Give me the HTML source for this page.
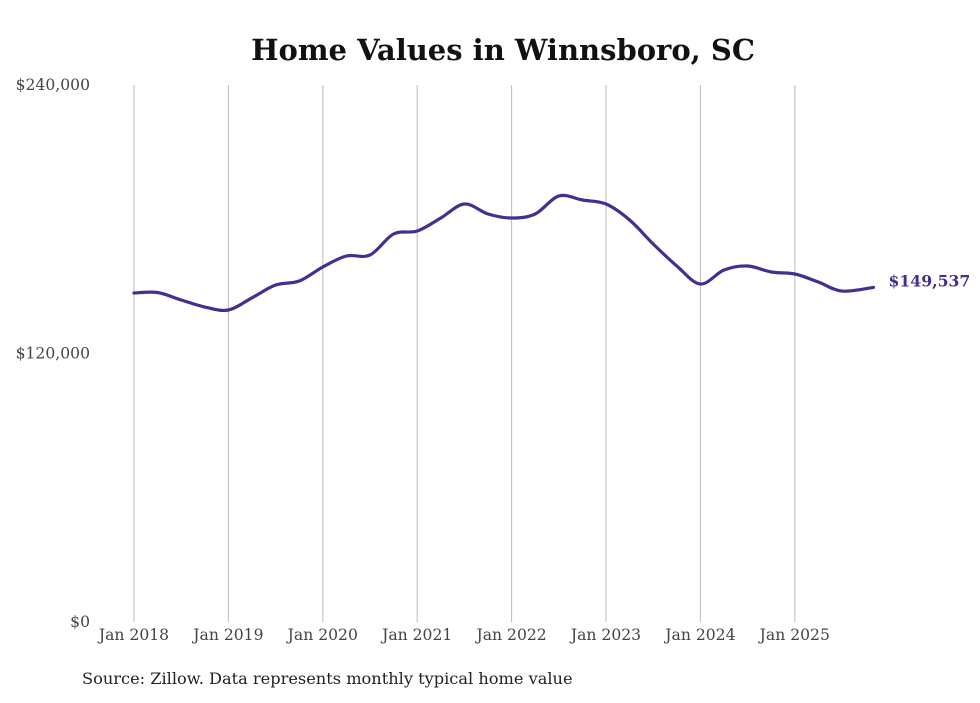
<!DOCTYPE html>
<html><head><meta charset="utf-8"><style>
body{margin:0;background:#fff;width:980px;height:699px;overflow:hidden;font-family:"DejaVu Serif","Liberation Serif",serif}
</style></head><body>
<svg id="chart" width="980" height="699" xmlns="http://www.w3.org/2000/svg" font-family="DejaVu Serif, Liberation Serif, serif">
<text x="503" y="60" text-anchor="middle" font-size="29" font-weight="bold" fill="#111">Home Values in Winnsboro, SC</text>
<g id="grid"></g><g id="yticks"></g><g id="xticks"></g>
<path id="line" fill="none" stroke="#3b3291" stroke-width="3.2" stroke-linejoin="round" stroke-linecap="round"/>
<text id="endlabel" font-size="15.7" font-weight="bold" fill="#3b3291"></text>
<text x="82" y="684" font-size="16.2" fill="#222">Source: Zillow. Data represents monthly typical home value</text>
</svg>
<script>
const monthIdx=[0,3,6,9,12,15,18,21,24,27,30,33,36,39,42,45,48,51,54,57,60,63,66,69,72,75,78,81,84,87,90,94];
const values=[147040,147265,143910,140780,139440,144890,150610,152400,158660,163580,164020,173410,174750,180560,186820,182350,180560,182350,190400,188600,186800,179670,168940,159110,151060,157320,159110,156430,155530,151960,147900,149537];
const yTickVals=[0,120000,240000];
const yTickLabels=["$0","$120,000","$240,000"];
const xTickYears=[2018,2019,2020,2021,2022,2023,2024,2025];
const NS="http://www.w3.org/2000/svg";
const x=m=>134+m*(94.4/12);
const y=v=>622-v*(537/240000);
function mk(tag,attrs,parent){const e=document.createElementNS(NS,tag);for(const k in attrs)e.setAttribute(k,attrs[k]);parent.appendChild(e);return e;}
const grid=document.getElementById('grid'),yt=document.getElementById('yticks'),xt=document.getElementById('xticks');
xTickYears.forEach(yr=>{const m=(yr-2018)*12;
 const l=mk('line',{x1:x(m),x2:x(m),y1:85,y2:622,stroke:'#bbb','stroke-width':1},grid);
 
 
 const t=mk('text',{x:x(m),y:640,'text-anchor':'middle','font-size':15.6,fill:'#444'},xt);
 t.textContent='Jan '+yr;
 
 
});
yTickVals.forEach((v,i)=>{const t=mk('text',{x:90,y:y(v)+5,'text-anchor':'end','font-size':15.6,fill:'#444'},yt);
 t.textContent=yTickLabels[i];
 
 
});
const pts=monthIdx.map((m,i)=>[x(m),y(values[i])]);
let d='M'+pts[0][0]+','+pts[0][1];
for(let i=0;i<pts.length-1;i++){const p0=pts[Math.max(0,i-1)],p1=pts[i],p2=pts[i+1],p3=pts[Math.min(pts.length-1,i+2)];
 d+=' C'+(p1[0]+(p2[0]-p0[0])/6)+','+(p1[1]+(p2[1]-p0[1])/6)+' '+(p2[0]-(p3[0]-p1[0])/6)+','+(p2[1]-(p3[1]-p1[1])/6)+' '+p2[0]+','+p2[1];}
document.getElementById('line').setAttribute('d',d);
const el=document.getElementById('endlabel');const last=pts[pts.length-1];
el.setAttribute('x',last[0]+15);el.setAttribute('y',last[1]-1);
el.textContent='$'+values[values.length-1].toLocaleString('en-US');
</script>
</body></html>
